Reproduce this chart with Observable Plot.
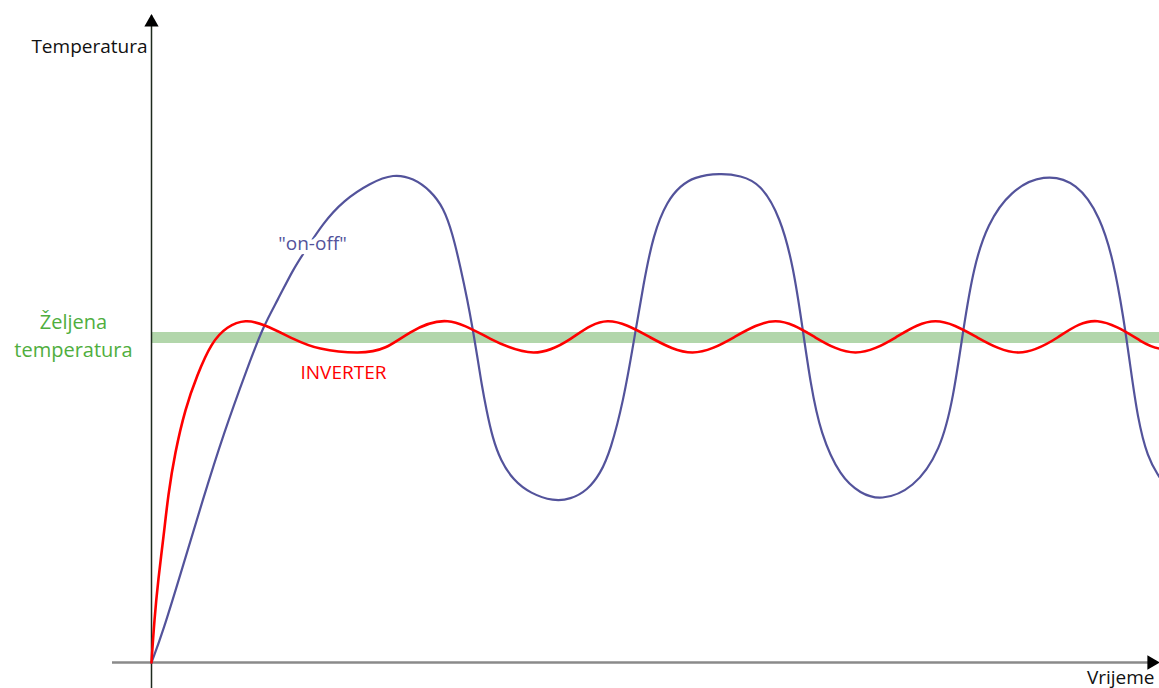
<!DOCTYPE html>
<html>
<head>
<meta charset="utf-8">
<script src="https://cdn.jsdelivr.net/npm/d3@7"></script>
<script src="https://cdn.jsdelivr.net/npm/@observablehq/plot@0.6"></script>
<style>
  html, body { margin: 0; padding: 0; background: #fff; }
  svg { display: block; }
</style>
</head>
<body>
<div id="chart"></div>
<script>
// Desired temperature (Željena temperatura)
const desiredTemp = [50];

// "on-off" regulation curve: time, temperature
const onOffTime = [0, 1.1, 3.1, 5.1, 7.2, 9.6, 11.2, 12.6, 14.2, 15.4, 17.1, 19.2, 21.9, 24.2, 26.2, 27.9, 29.2, 30.1, 30.9, 31.6, 32.1, 32.6, 33.0, 33.5, 34.1, 34.9, 36.2, 37.9, 40.2, 41.9, 43.6, 44.9, 45.9, 47.2, 48.2, 49.2, 50.2, 51.6, 52.9, 54.2, 56.9, 58.9, 60.9, 62.9, 64.2, 65.1, 65.9, 66.9, 68.9, 70.9, 72.9, 76.2, 78.9, 80.2, 81.2, 82.2, 83.6, 85.9, 89.2, 92.6, 94.9, 96.2, 97.2, 97.9, 98.6, 99.6, 100.8];
const onOffTemp = [0, 4.5, 14.6, 24.9, 35.2, 45.4, 51.8, 55.7, 60.6, 63.4, 67.5, 71.1, 73.8, 75.2, 74.5, 72.6, 70.0, 66.0, 60.8, 55.7, 51.5, 46.9, 42.9, 38.8, 34.6, 31.1, 28.0, 26.0, 24.8, 25.1, 26.5, 29.1, 32.6, 40.3, 49.1, 58.3, 66.0, 71.1, 73.3, 74.7, 75.3, 74.9, 73.7, 68.5, 60.8, 51.5, 42.9, 35.2, 28.5, 26.0, 24.9, 26.7, 32.6, 40.8, 51.5, 60.8, 67.5, 72.6, 75.2, 73.9, 68.5, 61.8, 53.1, 45.4, 37.7, 31.5, 28.5];

// INVERTER regulation curve: time, temperature
const inverterTime = [0, 0.3, 0.7, 1.2, 1.7, 2.4, 3.4, 4.6, 6.0, 7.6, 9.4, 11.4, 14.2, 16.9, 20.6, 23.4, 25.9, 29.6, 33.9, 38.2, 41.9, 45.6, 49.9, 54.1, 58.2, 62.4, 66.4, 70.4, 74.4, 78.4, 82.6, 86.7, 90.6, 94.6, 98.9, 100.8];
const inverterTemp = [0, 6.5, 12.9, 19.4, 25.8, 32.3, 38.8, 44.2, 48.8, 51.5, 52.5, 51.8, 49.8, 48.3, 47.7, 48.5, 50.8, 52.5, 49.8, 47.7, 49.8, 52.5, 50.0, 47.7, 50.0, 52.5, 50.0, 47.7, 50.0, 52.5, 50.0, 47.7, 50.0, 52.5, 49.5, 48.3];

// Axis extents (time, temperature)
const timeAxis = [-3.9, 100.4];
const tempAxis = [-4, 99.5];
const arrowTips = [{t: 0, T: 98.5, rot: 0}, {t: 100.0, T: 0, rot: 90}];

const onOff = onOffTime.map((t, i) => ({t, T: onOffTemp[i]}));
const inverter = inverterTime.map((t, i) => ({t, T: inverterTemp[i]}));

const font = "'Open Sans', 'Noto Sans', sans-serif";

const chart = Plot.plot({
  width: 1159,
  height: 688,
  margin: 0,
  x: {domain: [-15.1, 100.8], axis: null},
  y: {domain: [-4, 101.85], axis: null},
  style: {fontFamily: font, background: "#fff", overflow: "visible"},
  marks: [
    // desired temperature band
    Plot.ruleY(desiredTemp, {x1: 0, x2: 100.8, stroke: "#b2d6ab", strokeWidth: 11}),
    // axes
    Plot.ruleY([0], {x1: timeAxis[0], x2: timeAxis[1], stroke: "#8a8a8a", strokeWidth: 2.5}),
    Plot.ruleX([0], {y1: tempAxis[0], y2: tempAxis[1], stroke: "#1e2a1e", strokeWidth: 1.5}),
    Plot.dot(arrowTips, {x: "t", y: "T", rotate: "rot", symbol: "triangle", r: 5.3, fill: "#000", stroke: "none"}),
    // curves
    Plot.line(onOff, {x: "t", y: "T", curve: "basis", stroke: "#53539b", strokeWidth: 2.2}),
    Plot.line(inverter, {x: "t", y: "T", curve: "natural", stroke: "#ff0000", strokeWidth: 2.6}),
    // labels
    Plot.text(["\"on-off\""], {x: [16.1], y: [64.4], fill: "#53539b", stroke: "#fff", strokeWidth: 9, fontSize: 19, textAnchor: "middle"}),
    Plot.text(["INVERTER"], {x: [14.9], y: [44.6], fill: "#ff0000", fontSize: 19, textAnchor: "start"}),
    Plot.text(["Željena\ntemperatura"], {x: [-7.8], y: [50.6], fill: "#4fae3e", fontSize: 20, lineHeight: 1.4, textAnchor: "middle"}),
    Plot.text(["Temperatura"], {x: [-0.4], y: [94.7], fill: "#111", fontSize: 19, textAnchor: "end"}),
    Plot.text(["Vrijeme"], {x: [100.3], y: [-2.3], fill: "#111", fontSize: 19, textAnchor: "end"})
  ]
});
document.getElementById("chart").append(chart);
</script>
</body>
</html>
